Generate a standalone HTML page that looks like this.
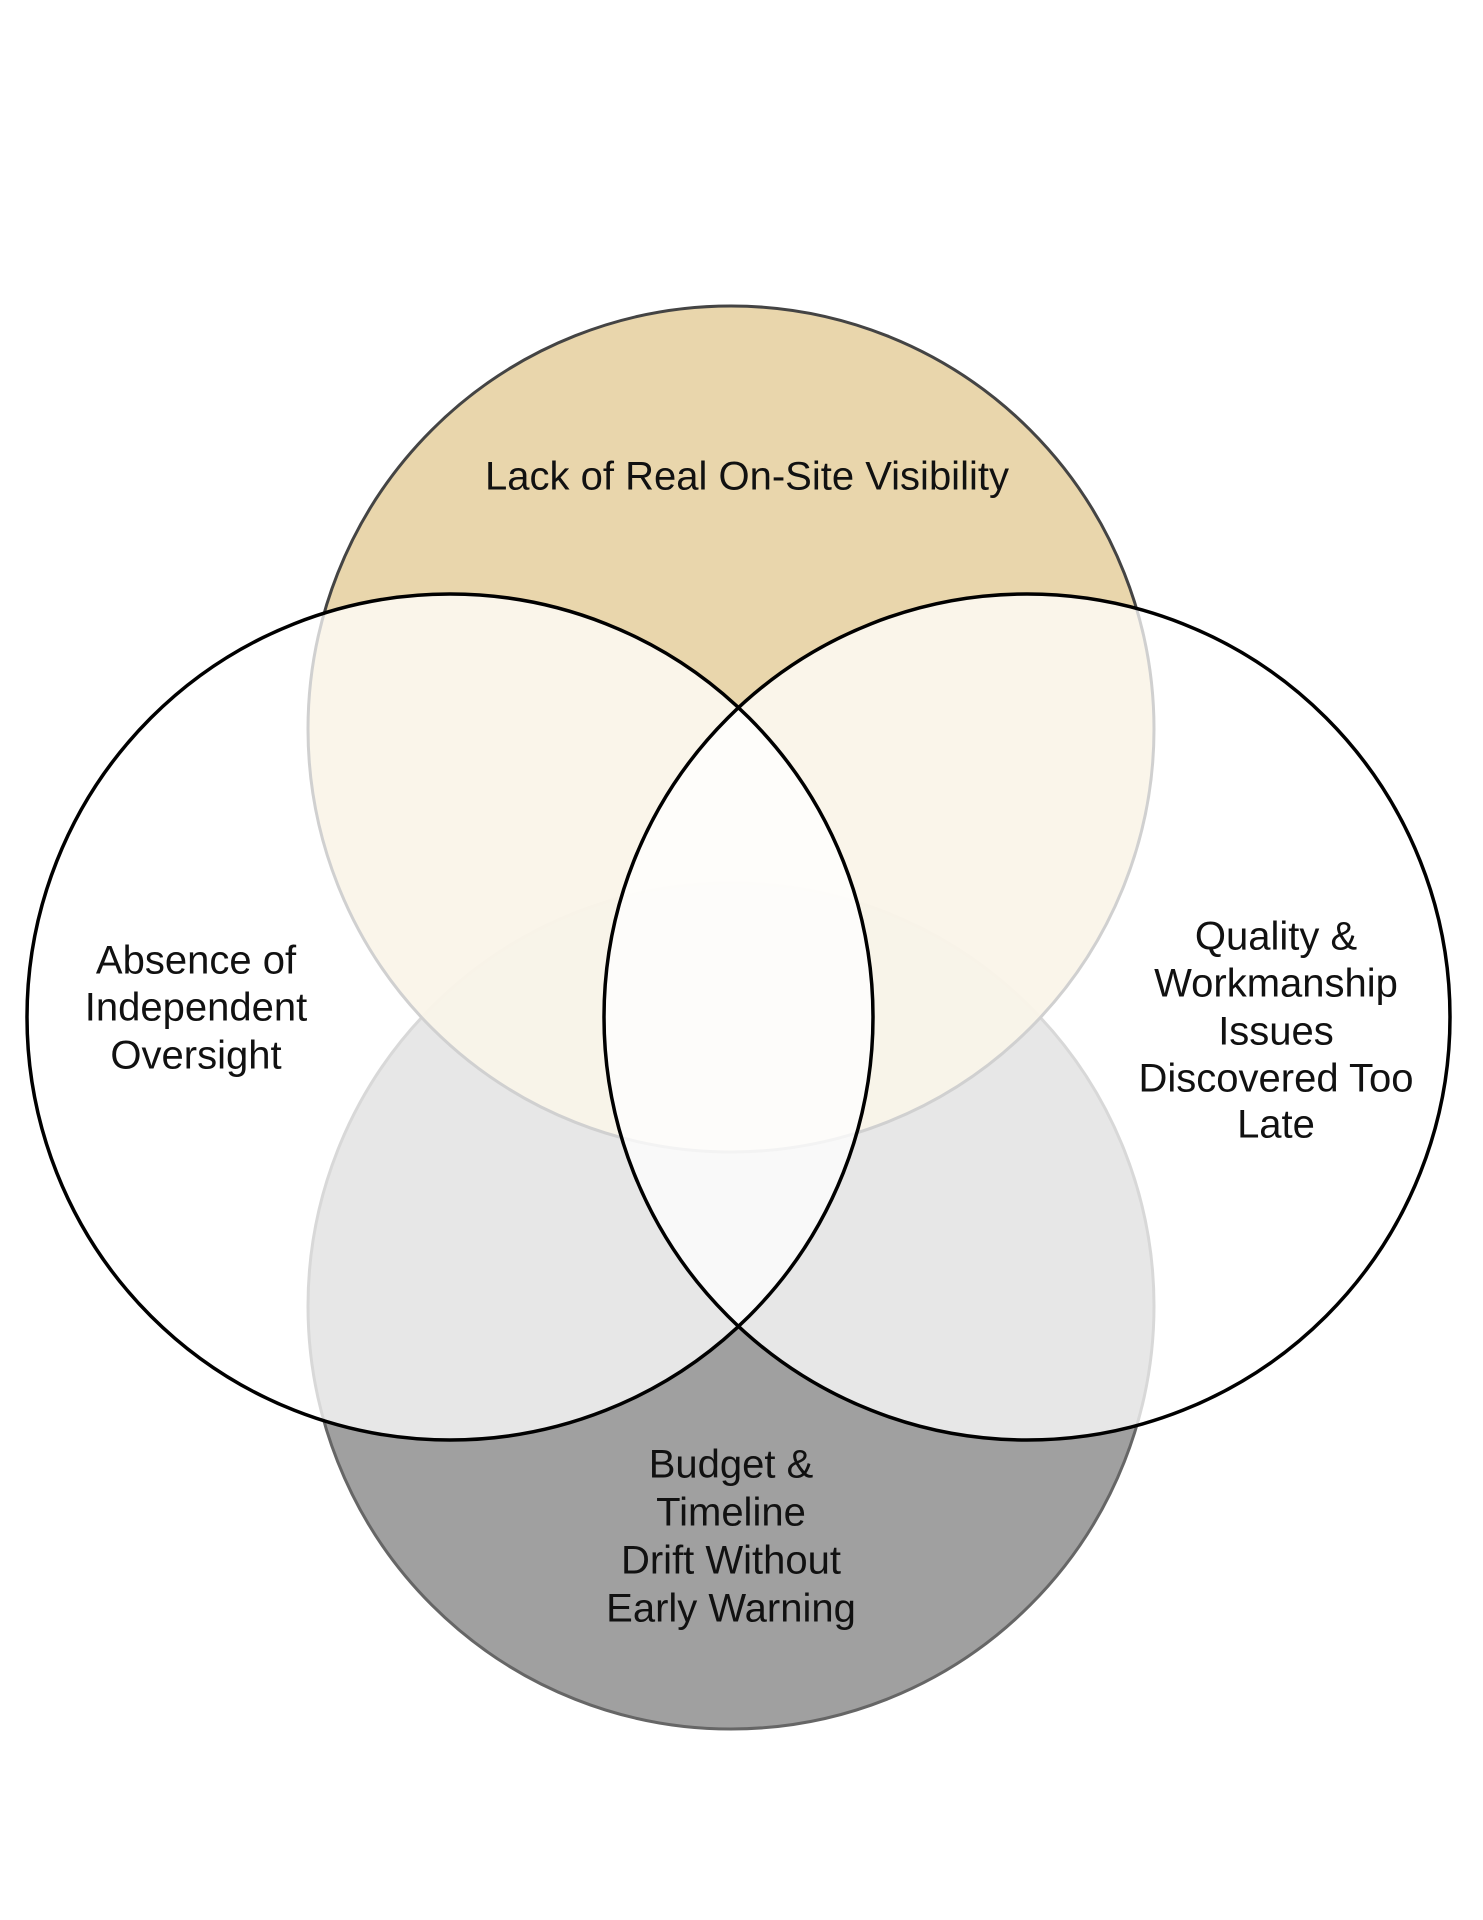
<!DOCTYPE html>
<html><head><meta charset="utf-8"><style>
html,body{margin:0;padding:0;background:#fff;}
svg{display:block}
text{font-family:"Liberation Sans Narrow","Liberation Sans",sans-serif;font-size:40px;fill:#111;text-anchor:middle;dominant-baseline:middle}
</style></head><body>
<svg width="1483" height="1920" viewBox="0 0 1483 1920">
<circle cx="731" cy="1306" r="423" fill="#a0a0a0" stroke="#666" stroke-width="3"/>
<circle cx="731" cy="729" r="423" fill="#e8d4a8" fill-opacity="0.95" stroke="#444" stroke-width="3"/>
<circle cx="450" cy="1017" r="423" fill="#fff" fill-opacity="0.75"/>
<circle cx="1027" cy="1017" r="423" fill="#fff" fill-opacity="0.75"/>
<circle cx="450" cy="1017" r="423" fill="none" stroke="#000" stroke-width="3.5"/>
<circle cx="1027" cy="1017" r="423" fill="none" stroke="#000" stroke-width="3.5"/>
<text x="747" y="479">Lack of Real On-Site Visibility</text>
<text x="196" y="963">Absence of</text>
<text x="196" y="1010">Independent</text>
<text x="196" y="1058">Oversight</text>
<text x="1276" y="939">Quality &amp;</text>
<text x="1276" y="986">Workmanship</text>
<text x="1276" y="1034">Issues</text>
<text x="1276" y="1081">Discovered Too</text>
<text x="1276" y="1127">Late</text>
<text x="731" y="1467">Budget &amp;</text>
<text x="731" y="1515">Timeline</text>
<text x="731" y="1563">Drift Without</text>
<text x="731" y="1611">Early Warning</text>
</svg>
</body></html>
